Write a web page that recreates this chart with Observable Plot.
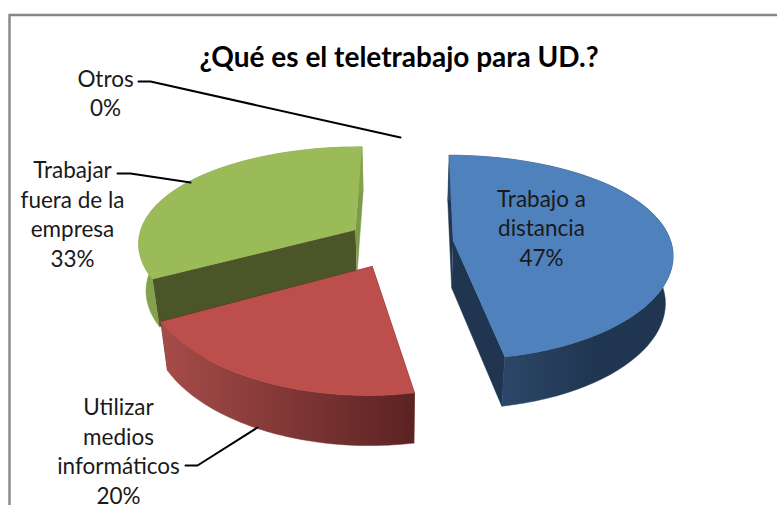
<!DOCTYPE html>
<html><head><meta charset="utf-8">
<script src="https://cdn.jsdelivr.net/npm/d3@7"></script>
<script src="https://cdn.jsdelivr.net/npm/@observablehq/plot@0.6"></script>
<style>html,body{margin:0;padding:0;background:#fff;overflow:hidden}svg{display:block}</style>
</head><body><div id="c"></div>
<script>
// data
const title = "¿Qué es el teletrabajo para UD.?";
const categories = ["Trabajo a\ndistancia", "Utilizar\nmedios\ninformáticos", "Trabajar\nfuera de la\nempresa", "Otros"];
const values = [47, 20, 33, 0];

// layout of the perspective pie
const view = {cx: 401, cy: 242, rx: 218, ry: 100, k: 0.16, xPow: 0.75, explode: 0.25, wall: 47, wallPow: 0.3, taper: 0.028, start: 0.5};
const nudge = [[-2.5, 0.5], [-5, 0.5], [0, 0], [0, 0]];
const palette = [
  {top: "#4f81bd", rim: "url(#rimBlue)", a: "#1f3550", b: "#1f3550"},
  {top: "#bc4f4c", rim: "url(#rimRed)", a: "#5c2323", b: "#5c2323"},
  {top: "#9bbb59", rim: "#84a24c", a: "#4b5527", b: "#7c9a48"}
];
const labelPos = [[541, 226.5], [118, 449.5], [72, 212.5], [105, 91.5]];
const leaders = [
  [[138, 81], [150, 81], [400, 137]],
  [[185, 465], [197, 465], [257, 427]],
  [[117, 173], [130, 173], [190, 182]]
];
const frame = [[9, 505], [9, 14.5], [777, 14.5]];

const rad = d => d * Math.PI / 180;
function project(X, D, down) {
  const s = 1 / (1 + view.k * D);
  let x = view.cx + view.rx * X * Math.pow(s, view.xPow);
  const y = view.cy - view.ry * D * s + (down ? view.wall * Math.pow(s, view.wallPow) : 0);
  if (down) x = view.cx + (x - view.cx) * (1 - view.taper);
  return [x, y];
}
let acc = view.start;
const slices = values.map((v, i) => {
  const a0 = acc, a1 = acc + v * 3.6; acc = a1;
  const mid = rad((a0 + a1) / 2);
  return {i, a0, a1, ox: view.explode * Math.sin(mid), oz: view.explode * Math.cos(mid)};
}).filter(s => s.a1 > s.a0);

const pt = (s, a, down) => project(s.ox + Math.sin(rad(a)), s.oz + Math.cos(rad(a)), down);
const apex = (s, down) => project(s.ox, s.oz, down);
const arc = (s, down) => d3.range(0, 61).map(j => pt(s, s.a0 + (s.a1 - s.a0) * j / 60, down));

const polys = [];
const add = (s, pts, fill) => polys.push({pts: pts.map(p => [p[0] + nudge[s.i][0], p[1] + nudge[s.i][1]]), fill});
for (const s of [slices[2], slices[0], slices[1]]) {
  const c = palette[s.i];
  add(s, [apex(s), pt(s, s.a0), pt(s, s.a0, true), apex(s, true)], c.a);
  add(s, [apex(s), pt(s, s.a1), pt(s, s.a1, true), apex(s, true)], c.b);
  add(s, [...arc(s), ...arc(s, true).reverse()], c.rim);
  add(s, [apex(s), ...arc(s)], c.top);
}

const chart = Plot.plot({
  width: 777, height: 505, margin: 0,
  x: {domain: [0, 777], range: [0, 777], axis: null},
  y: {domain: [0, 505], range: [0, 505], axis: null},
  style: {background: "#fff"},
  marks: [
    Plot.line(frame, {x: d => d[0], y: d => d[1], stroke: "#868686", strokeWidth: 2.4}),
    ...polys.map(p => Plot.line(p.pts, {x: d => d[0], y: d => d[1], fill: p.fill, stroke: p.fill, strokeWidth: 0.5})),
    ...leaders.map(l => Plot.line(l, {x: d => d[0], y: d => d[1], stroke: "#000", strokeWidth: 2})),
    Plot.text(categories.map((c, i) => ({t: c + "\n" + values[i] + "%", x: labelPos[i][0], y: labelPos[i][1]})), {
      x: "x", y: "y", text: "t", fontFamily: "Lato", fontSize: 22.5, lineHeight: 1.31, fill: "#1a1a1a"
    }),
    Plot.text([title], {x: () => 398.5, y: () => 58, text: d => d, fontFamily: "Lato", fontWeight: 700, fontSize: 28, fill: "#000"})
  ]
});
const defs = d3.select(chart).insert("defs", ":first-child");
const grad = (id, x1, x2, c1, c2) => {
  const g = defs.append("linearGradient").attr("id", id).attr("gradientUnits", "userSpaceOnUse")
    .attr("x1", x1).attr("x2", x2).attr("y1", 0).attr("y2", 0);
  g.append("stop").attr("offset", 0).attr("stop-color", c1);
  g.append("stop").attr("offset", 1).attr("stop-color", c2);
};
grad("rimBlue", 500, 600, "#2c4769", "#1f3550");
grad("rimRed", 160, 412, "#a64c49", "#5c2323");
document.getElementById("c").append(chart);
</script></body></html>
